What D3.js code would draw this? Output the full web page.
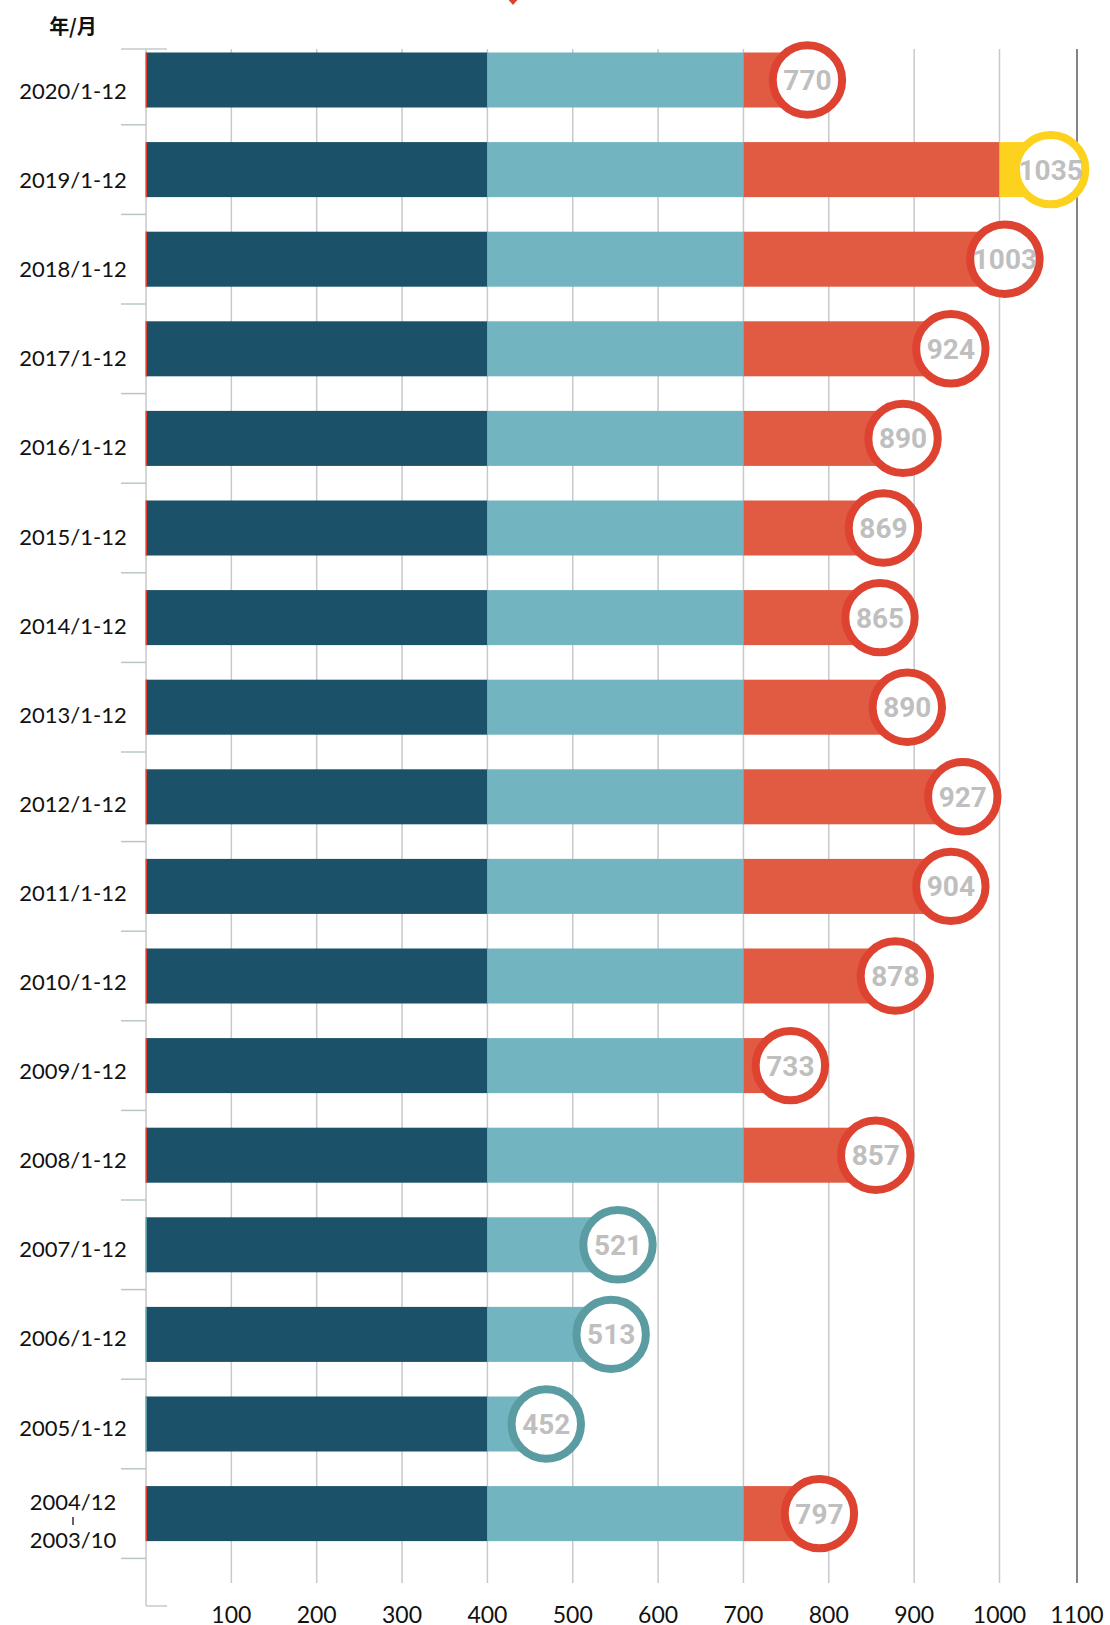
<!DOCTYPE html>
<html><head><meta charset="utf-8">
<script src="https://cdn.jsdelivr.net/npm/d3@7"></script>
<style>body{margin:0;background:#fff} svg{display:block}</style>
</head><body><svg id="c" width="1110" height="1625"></svg>
<script>
// ---- data ----
const categories = ["2020/1-12","2019/1-12","2018/1-12","2017/1-12","2016/1-12","2015/1-12","2014/1-12","2013/1-12","2012/1-12","2011/1-12","2010/1-12","2009/1-12","2008/1-12","2007/1-12","2006/1-12","2005/1-12","2004/12|2003/10"];
// numbers printed in the circles
const values = [770,1035,1003,924,890,869,865,890,927,904,878,733,857,521,513,452,797];
// where each bar / circle actually sits on the axis in the picture
const plotted = [775,1066,1007,943,887,864,860,892,957,943,878,755,855,553,545,469,789];
const xTicks = [100,200,300,400,500,600,700,800,900,1000,1100];
const xTickLabels = ["100","200","300","400","500","600","700","800","900","1000","1100"];
const stageBreaks = [400,700,1000];
const headerLabel = "年/月";

// ---- style ----
const C = {dark:"#1b5169", teal:"#72b4c0", red:"#e05b42", yellow:"#fdd21f",
           ringRed:"#de4332", ringTeal:"#5a9ca1", ringYellow:"#fdd21f",
           grid:"#c6c9cd", axis:"#c6cacd", tick:"#b9c7c7", label:"#bfbfbf"};

const svg = d3.select("#c");
// the last axis step (1000 -> 1100) is drawn narrower in the original
const x = d3.scaleLinear().domain([0,1000,1100]).range([146,999.5,1077]);
const y = d3.scaleBand().domain(categories).range([35.2, 35.2+17*89.6]).paddingInner(0.386).paddingOuter(0.193);
const yLab = d3.scalePoint().domain(categories).range([91, 91+16*89.1]);
const step = y.step();
const bw = y.bandwidth();
const plotTop = 49, gridBottom = 1583, axisBottom = 1606;
const maxVal = d3.max(values);

// gridlines
svg.append("g").selectAll("line").data(xTicks).join("line")
  .attr("x1", d=>x(d)).attr("x2", d=>x(d))
  .attr("y1", plotTop).attr("y2", gridBottom)
  .attr("stroke", (d,i)=> i===xTicks.length-1 ? "#333" : C.grid)
  .attr("stroke-width", (d,i)=> i===xTicks.length-1 ? 1.2 : 1.5);

// x labels
svg.append("g").selectAll("text").data(xTicks).join("text")
  .attr("x", d=>x(d)).attr("y", 1623)
  .attr("text-anchor","middle")
  .attr("font-family","Lato, 'Noto Sans', sans-serif").attr("font-size",23)
  .attr("fill","#111")
  .text((d,i)=>xTickLabels[i]);

// left axis
svg.append("line").attr("x1",146).attr("x2",146).attr("y1",plotTop).attr("y2",axisBottom)
  .attr("stroke",C.axis).attr("stroke-width",1.5);
svg.append("line").attr("x1",121).attr("x2",167).attr("y1",plotTop).attr("y2",plotTop)
  .attr("stroke",C.axis).attr("stroke-width",1.5);
svg.append("line").attr("x1",146).attr("x2",167).attr("y1",axisBottom).attr("y2",axisBottom)
  .attr("stroke",C.axis).attr("stroke-width",1.5);
// y ticks between rows
svg.append("g").selectAll("line").data(categories).join("line")
  .attr("x1",121).attr("x2",146)
  .attr("y1", d=>y(d)-step*0.193+step).attr("y2", d=>y(d)-step*0.193+step)
  .attr("stroke",C.tick).attr("stroke-width",1.5);

// bars
const rows = categories.map((c,i)=>({cat:c, value:values[i], end:plotted[i]}));
const segs = [];
rows.forEach(r=>{
  const b = [0, ...stageBreaks, Infinity];
  const cols = [C.dark, C.teal, C.red, C.yellow];
  for (let k=0;k<4;k++){
    const a = b[k], e = Math.min(b[k+1], r.end);
    if (e > a) segs.push({cat:r.cat, x0:a, x1:e, color:cols[k]});
  }
});
svg.append("g").selectAll("rect").data(segs).join("rect")
  .attr("x", d=>x(d.x0)).attr("width", d=>x(d.x1)-x(d.x0))
  .attr("y", d=>y(d.cat)).attr("height", bw)
  .attr("fill", d=>d.color);

// thin edge at axis
svg.append("g").selectAll("rect").data(rows).join("rect")
  .attr("x",145.5).attr("width",1.5).attr("y",d=>y(d.cat)).attr("height",bw)
  .attr("fill", d=> d.end < stageBreaks[1] ? C.ringTeal : C.ringRed);

// circles
const ring = d => d.end < stageBreaks[1] ? C.ringTeal : (d.value===maxVal ? C.ringYellow : C.ringRed);
const g = svg.append("g").selectAll("g").data(rows).join("g")
  .attr("transform", d=>`translate(${x(d.end)},${y(d.cat)+bw/2})`);
g.append("circle").attr("r",34.7).attr("fill","#fff").attr("stroke",ring).attr("stroke-width",8);
g.append("text").attr("text-anchor","middle").attr("y",10)
  .attr("font-family","Roboto, 'Liberation Sans', sans-serif").attr("font-weight","bold")
  .attr("font-size",28).attr("fill",C.label).text(d=>d.value);

// y labels
const yl = svg.append("g").selectAll("g").data(rows).join("g")
  .attr("transform", d=>`translate(73,${yLab(d.cat)})`);
yl.each(function(d){
  const s = d3.select(this);
  const parts = d.cat.split("|");
  const font = "Lato, 'Noto Sans', sans-serif";
  if (parts.length===1){
    s.append("text").attr("text-anchor","middle").attr("y",8)
      .attr("font-family",font).attr("font-size",22).attr("fill","#111").text(parts[0]);
  } else {
    s.append("text").attr("text-anchor","middle").attr("y",-6.6)
      .attr("font-family",font).attr("font-size",22).attr("fill","#111").text(parts[0]);
    s.append("line").attr("x1",0).attr("x2",0).attr("y1",0.4).attr("y2",8.4)
      .attr("stroke","#111").attr("stroke-width",1.3);
    s.append("text").attr("text-anchor","middle").attr("y",31.4)
      .attr("font-family",font).attr("font-size",22).attr("fill","#111").text(parts[1]);
  }
});

// header
svg.append("text").attr("x",73).attr("y",34).attr("text-anchor","middle")
  .attr("font-family","'Noto Sans CJK SC', sans-serif").attr("font-weight","bold")
  .attr("font-size",20).attr("fill","#111").text(headerLabel);

// small marker at top
svg.append("path").attr("d","M506,-3 L520,-3 L513,5 Z").attr("fill",C.ringRed);
</script></body></html>
